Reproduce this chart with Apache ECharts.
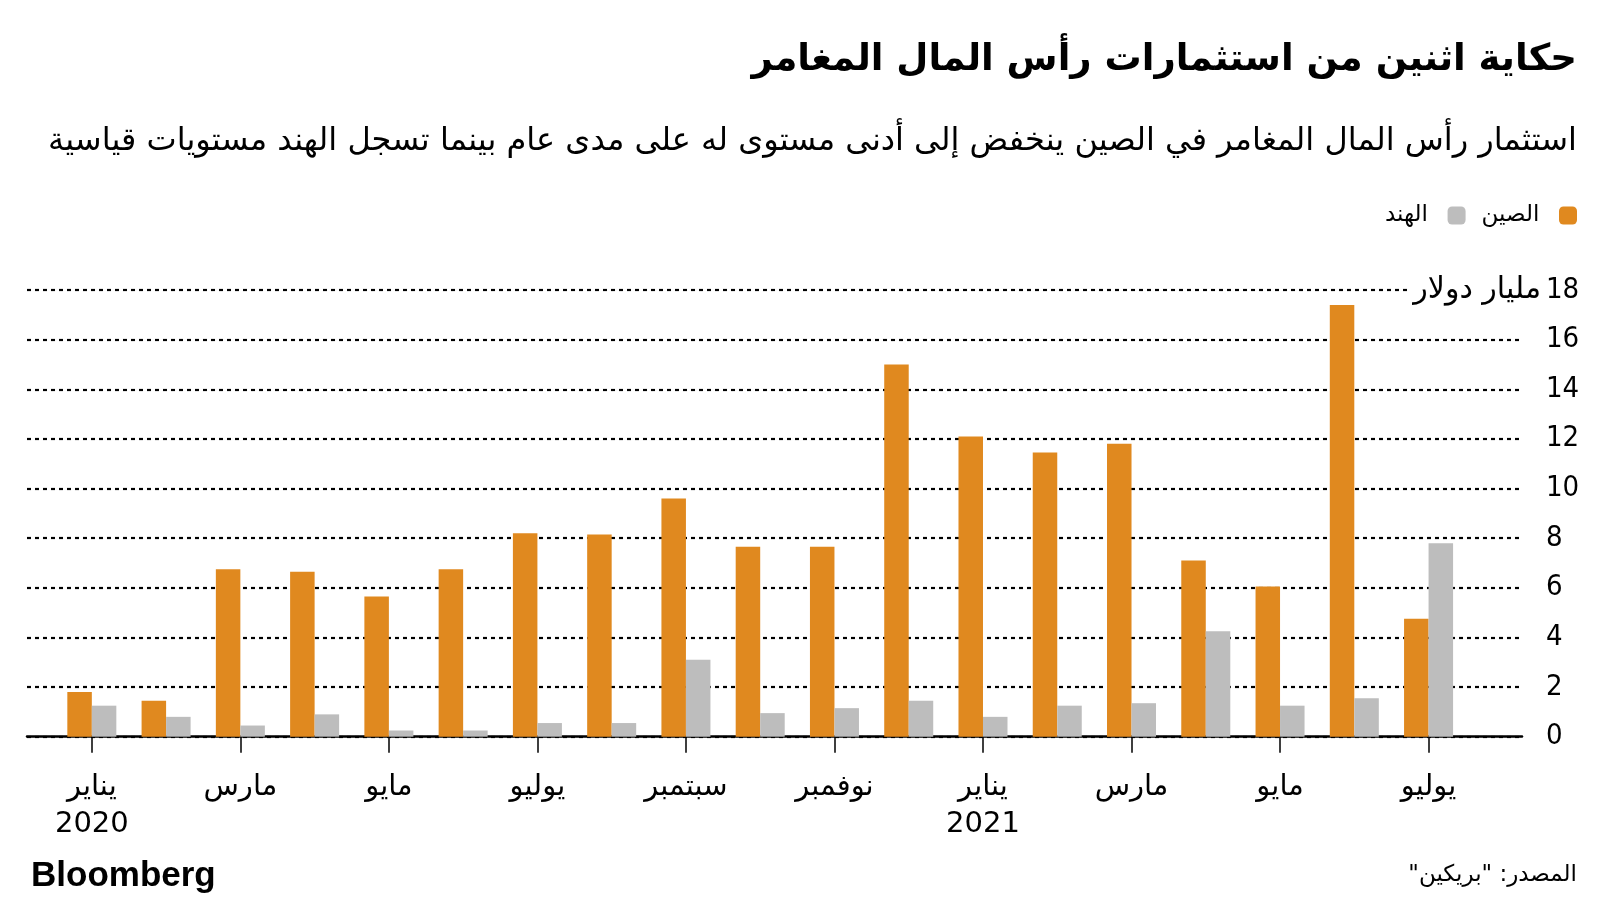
<!DOCTYPE html>
<html><head><meta charset="utf-8">
<script src="https://cdn.jsdelivr.net/npm/echarts@6/dist/echarts.min.js"></script>
<style>html,body{margin:0;padding:0;background:#fff}#c{width:1600px;height:900px}</style>
</head><body><div id="c"></div>
<script>
const months = ['يناير\n2020','فبراير','مارس','أبريل','مايو','يونيو','يوليو','أغسطس','سبتمبر','أكتوبر','نوفمبر','ديسمبر','يناير\n2021','فبراير','مارس','أبريل','مايو','يونيو','يوليو'];
const china = [1.8, 1.45, 6.75, 6.65, 5.65, 6.75, 8.2, 8.15, 9.6, 7.65, 7.65, 15.0, 12.1, 11.45, 11.8, 7.1, 6.05, 17.4, 4.75];
const india = [1.25, 0.8, 0.45, 0.9, 0.25, 0.25, 0.55, 0.55, 3.1, 0.95, 1.15, 1.45, 0.8, 1.25, 1.35, 4.25, 1.25, 1.55, 7.8];
const yTicks = {min: 0, max: 18, interval: 2};
const unitLabel = 'مليار دولار';
const seriesNames = ['الصين', 'الهند'];

const AR = '"DejaVu Sans", sans-serif';
const NUM = '"Liberation Sans Narrow", "DejaVu Sans Condensed", "DejaVu Sans", sans-serif';
const ORANGE = '#E0891F', GRAY = '#BDBDBD';

const chart = echarts.init(document.getElementById('c'), null, {renderer: 'canvas'});
chart.setOption({
  backgroundColor: '#fff',
  animation: false,
  title: [
    {text: 'حكاية اثنين من استثمارات رأس المال المغامر', right: 18, top: 37,
     textStyle: {fontFamily: AR, fontWeight: 'bold', fontSize: 37, color: '#000'}},
    {text: 'استثمار رأس المال المغامر في الصين ينخفض إلى أدنى مستوى له على مدى عام بينما تسجل الهند مستويات قياسية', right: 18, top: 121,
     textStyle: {fontFamily: AR, fontWeight: 'normal', fontSize: 32, color: '#000'}},
    {text: 'Bloomberg', left: 26, top: 854,
     textStyle: {fontFamily: '"Liberation Sans", Arial, sans-serif', fontWeight: 'bold', fontSize: 35, color: '#000'}},
    {text: 'المصدر: "بريكين"\u200F', right: 18, top: 859,
     textStyle: {fontFamily: AR, fontWeight: 'normal', fontSize: 23, color: '#000'}}
  ],
  legend: {
    data: [seriesNames[1], seriesNames[0]],
    right: 18, top: 199, align: 'right',
    itemWidth: 18, itemHeight: 18, itemGap: 16,
    icon: 'roundRect',
    formatter: n => n + '  ',
    textStyle: {fontFamily: AR, fontSize: 23, color: '#000'}
  },
  grid: [
    {left: 27, right: 78, top: 290, bottom: 163.3},
    {left: 54.7, right: 134.3, top: 290, bottom: 163.3}
  ],
  xAxis: [
    {gridIndex: 0, type: 'value', min: 0, max: 1,
     axisLine: {show: true, lineStyle: {color: '#000', width: 2.5}},
     axisTick: {show: false}, axisLabel: {show: false}, splitLine: {show: false}},
    {gridIndex: 1, type: 'category', data: months, boundaryGap: true,
     axisLine: {show: false},
     axisTick: {show: true, alignWithLabel: true, interval: 1, length: 16, lineStyle: {color: '#000', width: 1.5}},
     axisLabel: {interval: 1, margin: 32, fontFamily: AR, fontSize: 29, lineHeight: 37, color: '#000'}}
  ],
  yAxis: [
    {gridIndex: 0, type: 'value', position: 'right', min: yTicks.min, max: yTicks.max, interval: yTicks.interval,
     axisLine: {show: false}, axisTick: {show: false},
     axisLabel: {margin: 24, fontFamily: NUM, fontSize: 29, color: '#000'},
     splitLine: {show: true, lineStyle: {color: '#000', width: 2.2, type: [4, 4]}}},
    {gridIndex: 1, type: 'value', min: yTicks.min, max: yTicks.max, interval: yTicks.interval, show: false},
    {gridIndex: 0, type: 'value', position: 'right', min: yTicks.min, max: yTicks.max, interval: yTicks.interval,
     axisLine: {show: false}, axisTick: {show: false}, splitLine: {show: false},
     axisLabel: {margin: 19, align: 'right', fontFamily: AR, fontSize: 30, color: '#000',
       backgroundColor: '#fff', padding: [2, 0, 2, 4],
       formatter: v => v === yTicks.max ? unitLabel : ''}}
  ],
  series: [
    {name: seriesNames[0], type: 'bar', xAxisIndex: 1, yAxisIndex: 1, data: china,
     itemStyle: {color: ORANGE}, barGap: '0%', barCategoryGap: '34%'},
    {name: seriesNames[1], type: 'bar', xAxisIndex: 1, yAxisIndex: 1, data: india,
     itemStyle: {color: GRAY}, barGap: '0%', barCategoryGap: '34%'}
  ]
});
</script></body></html>
